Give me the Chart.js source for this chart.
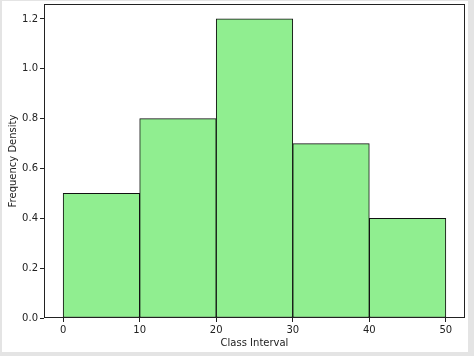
<!DOCTYPE html>
<html>
<head>
<meta charset="utf-8">
<script src="https://cdn.jsdelivr.net/npm/chart.js@4.4.1/dist/chart.umd.min.js"></script>
<style>
  html, body { margin: 0; padding: 0; background: #e4e4e4; }
  #frame { position: absolute; left: 2px; top: 1px; width: 466px; height: 351px; background: #fff; }
  canvas { display: block; }
</style>
</head>
<body>
<div id="frame"><canvas id="hist" width="466" height="351"></canvas></div>
<script>
// bin centres (width 10) and frequency densities
const binCentres = [5, 15, 25, 35, 45];
const densities = [0.5, 0.8, 1.2, 0.7, 0.4];
const xTicks = [0, 10, 20, 30, 40, 50];
const yTicks = [0, 0.2, 0.4, 0.6, 0.8, 1.0, 1.2];

const ink = '#222';
const font = { family: 'DejaVu Sans', size: 10 };

// matplotlib style box around the plot area
const spines = {
    id: 'spines',
    afterDraw(c) {
        const a = c.chartArea, ctx = c.ctx;
        ctx.save();
        ctx.strokeStyle = ink;
        ctx.lineWidth = 1;
        ctx.strokeRect(Math.round(a.left) + 0.5, Math.round(a.top) + 0.5,
            Math.round(a.right - a.left) - 1, Math.round(a.bottom - a.top) - 1);
        ctx.restore();
    }
};

new Chart(document.getElementById('hist'), {
    type: 'bar',
    data: {
        datasets: [{
            data: binCentres.map((x, i) => ({ x: x, y: densities[i] })),
            backgroundColor: '#90ee90',
            borderColor: '#111',
            borderWidth: 1,
            borderSkipped: false,
            barPercentage: 1,
            categoryPercentage: 1
        }]
    },
    options: {
        responsive: false,
        animation: false,
        layout: { padding: { top: 3, right: 3, left: 0, bottom: 0 } },
        plugins: { legend: { display: false }, tooltip: { enabled: false } },
        scales: {
            x: {
                type: 'linear',
                min: -2.5,
                max: 52.5,
                offset: false,
                afterBuildTicks: s => { s.ticks = xTicks.map(v => ({ value: v })); },
                afterFit: s => { s.height = 34; s.paddingLeft = 0; s.paddingRight = 0; },
                grid: { display: true, offset: false, drawOnChartArea: false, tickLength: 4, color: ink },
                border: { display: false },
                ticks: { color: ink, font: font, padding: 2, maxRotation: 0 },
                title: { display: true, text: 'Class Interval', color: ink, font: font, padding: { top: 2, bottom: 3 } }
            },
            y: {
                min: 0,
                max: 1.26,
                afterBuildTicks: s => { s.ticks = yTicks.map(v => ({ value: v })); },
                afterFit: s => { s.width = 42; s.paddingTop = 0; s.paddingBottom = 0; },
                grid: { display: true, offset: false, drawOnChartArea: false, tickLength: 4, color: ink },
                border: { display: false },
                ticks: { color: ink, font: font, padding: 2, callback: v => v.toFixed(1) },
                title: { display: true, text: 'Frequency Density', color: ink, font: font, padding: { top: 5, bottom: 2 } }
            }
        }
    },
    plugins: [spines]
});
</script>
</body>
</html>
